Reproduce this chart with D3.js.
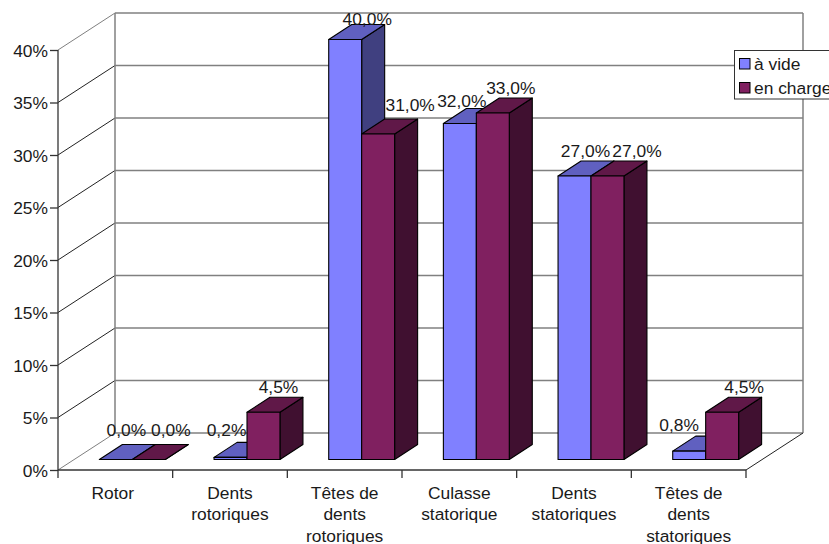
<!DOCTYPE html>
<html><head><meta charset="utf-8">
<script src="https://cdn.jsdelivr.net/npm/d3@7/dist/d3.min.js"></script>
<style>html,body{margin:0;padding:0;background:#fff;overflow:hidden}svg{display:block}
text{font-family:"Liberation Sans",Arial,sans-serif;font-size:17.4px;fill:#1a1a1a}</style>
</head><body><svg id="c" width="829" height="544"></svg>
<script>
const categories=[["Rotor"],["Dents","rotoriques"],["Têtes de","dents","rotoriques"],["Culasse","statorique"],["Dents","statoriques"],["Têtes de","dents","statoriques"]];
const seriesNames=["à vide","en charge"];
const aVide=[0,0.2,40,32,27,0.8];
const enCharge=[0,4.5,31,33,27,4.5];
const yTicks=[0,5,10,15,20,25,30,35,40];
const seriesValues=[aVide,enCharge];

// label nudges relative to the bar's front-top centre (layout only)
const labelDx=[[10.5,-4,22,2,11,-10],[22,15,32,18,29.5,22]];
const labelDy=[[-23.5,-21,-14.5,-16.5,-19,-20],[-23.5,-19,-23,-19,-19,-19]];
const categoryDx=[-2.5,0,0,0,0,0];

const W={l:58,r:746,t:50,b:470,dx:57,dy:-37};
const barFront={dx:17,dy:-10.5}, barDepth={dx:23,dy:-15};
const colors=[{f:"#8080ff",t:"#6060c0",s:"#404080"},{f:"#802060",t:"#601848",s:"#401030"}];
const grey="#808080", dark="#333";

const svg=d3.select("#c");
const x0=d3.scaleBand().domain(d3.range(categories.length)).range([W.l,W.r]);
const x1=d3.scaleBand().domain(d3.range(seriesNames.length)).range([0,x0.bandwidth()]).paddingInner(0).paddingOuter(0.74);
const y=d3.scaleLinear().domain([0,40]).range([W.b,W.t]);

// walls
const g=svg.append("g");
g.selectAll("line.grid").data(yTicks).join("line")
 .attr("x1",W.l+W.dx).attr("x2",W.r+W.dx).attr("y1",d=>y(d)+W.dy).attr("y2",d=>y(d)+W.dy)
 .attr("stroke",grey).attr("stroke-width",1.5);
g.selectAll("line.side").data(yTicks).join("line")
 .attr("x1",W.l).attr("x2",W.l+W.dx).attr("y1",d=>y(d)).attr("y2",d=>y(d)+W.dy)
 .attr("stroke",d=>d===0||d===40?grey:"#222").attr("stroke-width",1);
g.append("line").attr("x1",W.l+W.dx).attr("x2",W.l+W.dx).attr("y1",y(40)+W.dy).attr("y2",y(0)+W.dy).attr("stroke",grey).attr("stroke-width",1.5);
g.append("line").attr("x1",W.r+W.dx).attr("x2",W.r+W.dx).attr("y1",y(40)+W.dy).attr("y2",y(0)+W.dy).attr("stroke",grey).attr("stroke-width",1.5);
g.append("line").attr("x1",W.r).attr("x2",W.r+W.dx).attr("y1",y(0)).attr("y2",y(0)+W.dy).attr("stroke","#222");

// y axis
const ax=svg.append("g").attr("transform",`translate(${W.l},0)`)
 .call(d3.axisLeft(y).tickValues(yTicks).tickFormat(d=>d+"%").tickSize(8).tickPadding(2));
ax.selectAll("path,line").attr("stroke",dark).attr("stroke-width",1.3);
ax.select("path").attr("d",`M0,${W.t}V${W.b}`);
ax.selectAll("text").attr("dy","0.36em").style("font-size","17.4px").style("font-family",'"Liberation Sans",Arial,sans-serif');

// x axis: ticks on band edges
const bx=svg.append("g");
bx.append("line").attr("x1",W.l).attr("x2",W.r).attr("y1",W.b).attr("y2",W.b).attr("stroke",dark).attr("stroke-width",1.3);
const edges=d3.range(categories.length+1).map(i=>W.l+i*x0.step());
bx.selectAll("line.t").data(edges).join("line").attr("x1",d=>d).attr("x2",d=>d).attr("y1",W.b).attr("y2",W.b+8).attr("stroke",dark).attr("stroke-width",1.3);
categories.forEach((lines,i)=>{
  const t=bx.append("text").attr("text-anchor","middle");
  lines.forEach((l,j)=>t.append("tspan").attr("x",x0(i)+x0.bandwidth()/2+categoryDx[i]).attr("y",498.5+j*21.5).text(l));
});

// bars
const line=d3.line();
categories.forEach((_,i)=>{
  seriesValues.forEach((vals,s)=>{
    const xa=x0(i)+x1(s)+barFront.dx, xb=xa+x1.bandwidth();
    const yb=y(0)+barFront.dy, yt=y(vals[i])+barFront.dy;
    const ddx=barDepth.dx, ddy=barDepth.dy, c=colors[s];
    const face=(pts,fill)=>svg.append("path").attr("d",line(pts)+"Z").attr("fill",fill).attr("stroke","#000").attr("stroke-width",1.1).attr("stroke-linejoin","round");
    face([[xb,yb],[xb+ddx,yb+ddy],[xb+ddx,yt+ddy],[xb,yt]],c.s);
    face([[xa,yt],[xb,yt],[xb+ddx,yt+ddy],[xa+ddx,yt+ddy]],c.t);
    face([[xa,yb],[xb,yb],[xb,yt],[xa,yt]],c.f);
  });
});

// data labels
const fmt=v=>v.toFixed(1).replace(".",",")+"%";
categories.forEach((_,i)=>seriesValues.forEach((vals,s)=>{
  svg.append("text").attr("text-anchor","middle")
   .attr("x",x0(i)+x1(s)+barFront.dx+x1.bandwidth()/2+labelDx[s][i])
   .attr("y",y(vals[i])+barFront.dy+labelDy[s][i]).text(fmt(vals[i]));
}));

// legend
const lg=svg.append("g");
lg.append("rect").attr("x",734.5).attr("y",50.5).attr("width",110).attr("height",48.5).attr("fill","#fff").attr("stroke","#333");
seriesNames.forEach((n,i)=>{
  lg.append("rect").attr("x",739.5).attr("y",58.5+i*24).attr("width",10.5).attr("height",10.5).attr("fill",colors[i].f).attr("stroke","#000");
  lg.append("text").attr("x",754).attr("y",69.5+i*24).text(n);
});
</script></body></html>
